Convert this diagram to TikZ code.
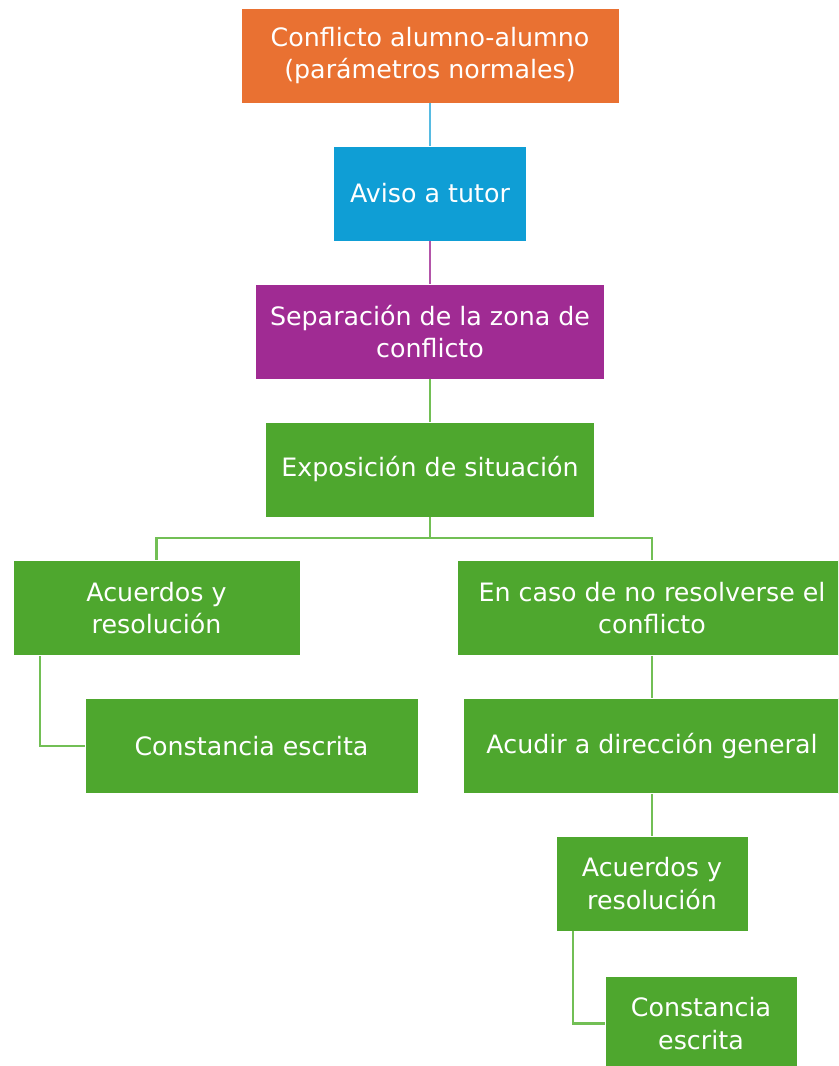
\documentclass[tikz,border=0pt]{standalone}
\usepackage{fontspec}
\setmainfont{DejaVu Sans}
\definecolor{naranja}{HTML}{E97132}
\definecolor{azul}{HTML}{0F9ED5}
\definecolor{morado}{HTML}{A02B93}
\definecolor{verde}{HTML}{4EA72E}
\definecolor{verdeclaro}{HTML}{72BF55}
\tikzset{
  caja/.style={draw=white, line width=0.4pt, text=white, align=center,
    minimum height=2.375cm, inner sep=2pt, font=\fontsize{18}{23}\selectfont},
  linea/.style={line width=1.5pt}
}
\begin{document}
\begin{tikzpicture}[x=0.025cm, y=-0.025cm]
      \useasboundingbox (0, 0) rectangle (838, 1066);
      \clip (0, 0) rectangle (838, 1066);

      \node[caja, fill=naranja, minimum width=9.45cm] (conflicto) at (430, 55.5) {Conflicto alumno-alumno\\(parámetros normales)};
      \node[caja, fill=azul, minimum width=4.825cm] (aviso) at (430, 193.5) {Aviso a tutor};
      \node[caja, fill=morado, minimum width=8.725cm] (separacion) at (430, 331.5) {Separación de la zona de\\conflicto};
      \node[caja, fill=verde, minimum width=8.225cm] (exposicion) at (430, 469.5) {Exposición de situación};

      \node[caja, fill=verde, minimum width=7.175cm] (acuerdosA) at (156.5, 608) {Acuerdos y\\resolución};
      \node[caja, fill=verde, minimum width=8.325cm] (constanciaA) at (251.5, 746) {Constancia escrita};

      \node[caja, fill=verde, minimum width=9.75cm] (caso) at (652, 608) {En caso de no resolverse el\\conflicto};
      \node[caja, fill=verde, minimum width=9.45cm] (direccion) at (652, 746) {Acudir a dirección general};
      \node[caja, fill=verde, minimum width=4.8cm] (acuerdosB) at (652, 883.5) {Acuerdos y\\resolución};
      \node[caja, fill=verde, minimum width=4.8cm] (constanciaB) at (701, 1023.5) {Constancia\\escrita};

      % conectores
      \draw[linea, azul!70] (conflicto.south) -- (aviso.north);
      \draw[linea, morado!80] (aviso.south) -- (separacion.north);
      \draw[linea, verdeclaro] (separacion.south) -- (exposicion.north);

      \draw[linea, verdeclaro] (exposicion.south) -- ++(0, 21) -| (acuerdosA.north);
      \draw[linea, verdeclaro] (exposicion.south) -- ++(0, 21) -| (caso.north);
      \draw[linea, verdeclaro] ([xshift=0.675cm]acuerdosA.south west) |- (constanciaA.west);

      \draw[linea, verdeclaro] (caso.south) -- (direccion.north);
      \draw[linea, verdeclaro] (direccion.south) -- (acuerdosB.north);
      \draw[linea, verdeclaro] ([xshift=0.425cm]acuerdosB.south west) |- (constanciaB.west);
\end{tikzpicture}
\end{document}
